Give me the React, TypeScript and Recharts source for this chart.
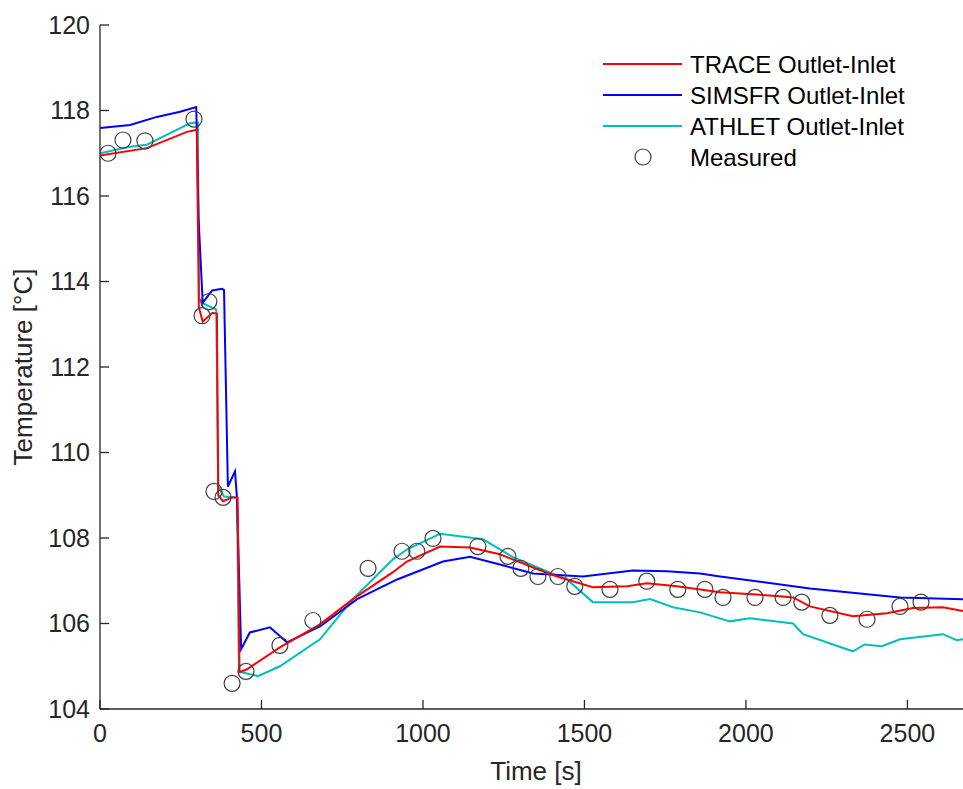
import React from 'react';
import { ComposedChart, Line, Scatter, XAxis, YAxis, Legend, Label } from 'recharts';

// Axis ticks
const timeTicks = [0, 500, 1000, 1500, 2000, 2500];
const tempTicks = [104, 106, 108, 110, 112, 114, 116, 118, 120];

// TRACE outlet-inlet temperature difference
const traceTime = [0, 145, 269, 300, 306, 318, 348, 362, 366, 381, 409, 426, 432, 455, 557, 681, 783, 907, 950, 1053, 1146, 1238, 1341, 1415, 1526, 1632, 1693, 1786, 1920, 2105, 2146, 2198, 2331, 2437, 2517, 2610, 2672, 2700];
const traceTemp = [116.95, 117.12, 117.5, 117.55, 113.4, 113.06, 113.27, 113.25, 109.0, 108.86, 108.95, 108.95, 104.86, 104.93, 105.44, 105.98, 106.57, 107.2, 107.45, 107.8, 107.78, 107.62, 107.31, 107.1, 106.85, 106.87, 106.94, 106.87, 106.73, 106.64, 106.61, 106.4, 106.17, 106.24, 106.36, 106.38, 106.29, 106.25];

// SIMSFR outlet-inlet temperature difference
const simsfrTime = [0, 93, 176, 248, 298, 305, 318, 347, 378, 384, 396, 418, 424, 437, 464, 526, 579, 681, 796, 920, 1062, 1146, 1238, 1341, 1495, 1650, 1755, 1858, 1920, 2198, 2477, 2672, 2700];
const simsfrTemp = [117.59, 117.66, 117.85, 117.97, 118.08, 115.5, 113.5, 113.79, 113.83, 113.8, 109.2, 109.56, 108.95, 105.4, 105.79, 105.91, 105.56, 105.93, 106.57, 107.03, 107.45, 107.56, 107.38, 107.17, 107.1, 107.24, 107.22, 107.17, 107.1, 106.82, 106.61, 106.57, 106.56];

// ATHLET outlet-inlet temperature difference
const athletTime = [0, 93, 145, 248, 279, 303, 307, 316, 360, 366, 372, 384, 424, 430, 438, 489, 557, 681, 783, 907, 950, 1053, 1186, 1279, 1384, 1446, 1526, 1650, 1703, 1774, 1858, 1950, 2012, 2146, 2177, 2331, 2368, 2421, 2477, 2610, 2653, 2672, 2700];
const athletTemp = [117.0, 117.15, 117.2, 117.59, 117.7, 117.72, 113.6, 113.5, 113.34, 109.2, 109.13, 108.97, 108.95, 104.9, 104.86, 104.77, 105.0, 105.63, 106.57, 107.5, 107.73, 108.1, 107.97, 107.55, 107.22, 107.03, 106.5, 106.5, 106.57, 106.38, 106.26, 106.05, 106.12, 106.0, 105.75, 105.35, 105.51, 105.47, 105.63, 105.75, 105.61, 105.63, 105.65];

// Measured values
const measuredTime = [25, 71, 139, 291, 316, 337, 353, 381, 409, 452, 557, 659, 830, 935, 981, 1031, 1170, 1263, 1303, 1356, 1418, 1470, 1579, 1693, 1789, 1873, 1929, 2028, 2115, 2173, 2260, 2375, 2477, 2542];
const measuredTemp = [117.0, 117.31, 117.29, 117.8, 113.2, 113.53, 109.09, 108.95, 104.6, 104.88, 105.49, 106.07, 107.29, 107.69, 107.69, 107.99, 107.8, 107.57, 107.29, 107.1, 107.1, 106.87, 106.8, 106.99, 106.8, 106.8, 106.61, 106.61, 106.61, 106.5, 106.19, 106.1, 106.4, 106.5];

const toPoints = (ts: number[], vs: number[]) => ts.map((t, i) => ({ t, v: vs[i] }));

const traceData = toPoints(traceTime, traceTemp);
const simsfrData = toPoints(simsfrTime, simsfrTemp);
const athletData = toPoints(athletTime, athletTemp);
const measuredData = toPoints(measuredTime, measuredTemp);

const FONT = 'Arial, "Liberation Sans", Helvetica, sans-serif';
const AXIS_COLOR = '#262626';
const RED = '#ff0000';
const BLUE = '#0000ff';
const CYAN = '#00bebe';
const MARKER = '#404040';

const legendItems = [
  { name: 'TRACE Outlet-Inlet', color: RED, kind: 'line' },
  { name: 'SIMSFR Outlet-Inlet', color: BLUE, kind: 'line' },
  { name: 'ATHLET Outlet-Inlet', color: CYAN, kind: 'line' },
  { name: 'Measured', color: MARKER, kind: 'marker' },
];

const LegendBox = () => (
  <svg width={360} height={130} style={{ display: 'block' }}>
    {legendItems.map((item, i) => {
      const y = 14 + i * 31;
      return (
        <g key={item.name}>
          {item.kind === 'line' ? (
            <line x1={0} x2={79} y1={y} y2={y} stroke={item.color} strokeWidth={2} />
          ) : (
            <circle cx={40} cy={y} r={8} fill="none" stroke={item.color} strokeWidth={1.2} />
          )}
          <text x={87} y={y} dominantBaseline="central" fontFamily={FONT} fontSize={24} fill="#000">
            {item.name}
          </text>
        </g>
      );
    })}
  </svg>
);

const MeasuredMarker = (props: any) => {
  const { cx, cy } = props;
  if (cx == null || cy == null) return null;
  return <circle cx={cx} cy={cy} r={8} fill="none" stroke={MARKER} strokeWidth={1.2} />;
};

const tickStyle = { fill: AXIS_COLOR, fontSize: 25, fontFamily: FONT };

export default function App() {
  return (
    <div
      style={{
        position: 'fixed',
        left: 0,
        top: 0,
        width: 963,
        height: 789,
        overflow: 'hidden',
        background: '#fff',
      }}
    >
      <ComposedChart
        width={975}
        height={789}
        margin={{ top: 25, right: 3, bottom: 20, left: 0 }}
      >
        <XAxis
          xAxisId="bottom"
          dataKey="t"
          type="number"
          domain={[0, 2700]}
          ticks={timeTicks}
          allowDataOverflow
          height={60}
          tickSize={-9}
          tickMargin={24}
          tick={tickStyle}
          stroke={AXIS_COLOR}
          strokeWidth={1.3}
          tickLine={{ stroke: AXIS_COLOR, strokeWidth: 1.3 }}
        >
          <Label
            value="Time [s]"
            position="bottom"
            offset={-7}
            style={{ fill: AXIS_COLOR, fontSize: 26, fontFamily: FONT }}
          />
        </XAxis>
        <XAxis
          xAxisId="top"
          orientation="top"
          dataKey="t"
          type="number"
          domain={[0, 2700]}
          ticks={timeTicks}
          allowDataOverflow
          height={0}
          tickSize={-9}
          tick={false}
          stroke={AXIS_COLOR}
          strokeWidth={1.3}
          tickLine={{ stroke: AXIS_COLOR, strokeWidth: 1.3 }}
        />
        <YAxis
          yAxisId="left"
          dataKey="v"
          type="number"
          domain={[104, 120]}
          ticks={tempTicks}
          allowDataOverflow
          width={100}
          tickSize={-9}
          tickMargin={19}
          tick={tickStyle}
          stroke={AXIS_COLOR}
          strokeWidth={1.3}
          tickLine={{ stroke: AXIS_COLOR, strokeWidth: 1.3 }}
        >
          <Label
            content={(props: any) => {
              const vb = props.viewBox || {};
              const cx = 23;
              const cy = (vb.y ?? 25) + (vb.height ?? 684) / 2;
              return (
                <text
                  x={cx}
                  y={cy}
                  transform={`rotate(-90 ${cx} ${cy})`}
                  textAnchor="middle"
                  dominantBaseline="central"
                  fontFamily={FONT}
                  fontSize={26}
                  fill={AXIS_COLOR}
                >
                  Temperature [°C]
                </text>
              );
            }}
          />
        </YAxis>
        <Legend
          layout="horizontal"
          verticalAlign="middle"
          align="center"
          wrapperStyle={{ position: 'absolute', left: 603, top: 50, width: 360, height: 130 }}
          content={() => <LegendBox />}
        />
        <Line
          xAxisId="bottom"
          yAxisId="left"
          data={athletData}
          dataKey="v"
          type="linear"
          stroke={CYAN}
          strokeWidth={2}
          dot={false}
          isAnimationActive={false}
        />
        <Line
          xAxisId="bottom"
          yAxisId="left"
          data={simsfrData}
          dataKey="v"
          type="linear"
          stroke={BLUE}
          strokeWidth={2}
          dot={false}
          isAnimationActive={false}
        />
        <Line
          xAxisId="bottom"
          yAxisId="left"
          data={traceData}
          dataKey="v"
          type="linear"
          stroke={RED}
          strokeWidth={2}
          dot={false}
          isAnimationActive={false}
        />
        <Scatter
          xAxisId="bottom"
          yAxisId="left"
          data={measuredData}
          dataKey="v"
          shape={MeasuredMarker}
          isAnimationActive={false}
        />
      </ComposedChart>
    </div>
  );
}
